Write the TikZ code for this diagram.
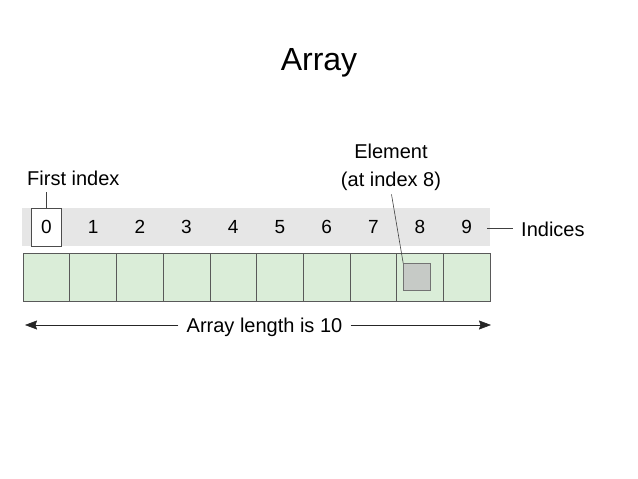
\documentclass[tikz,border=0pt]{standalone}
\usepackage{fontspec}
\setmainfont{Liberation Sans}
\usetikzlibrary{positioning,arrows.meta}
\definecolor{cellgreen}{RGB}{218,237,216}
\definecolor{bandgray}{RGB}{230,230,230}
\definecolor{elemgray}{RGB}{198,202,198}
\begin{document}
\begin{tikzpicture}[x=1pt, y=-1pt,
    cell/.style={draw=black!65, semithick, fill=cellgreen, minimum width=46.7pt, minimum height=48pt, inner sep=0pt, outer sep=0pt},
    idx/.style={font=\fontsize{19}{19}\selectfont, inner sep=0pt},
    lbl/.style={font=\fontsize{20}{28}\selectfont, inner sep=1pt, align=center},
    pointer/.style={black!75, semithick},
    lenarrow/.style={black!85, semithick, -{Stealth[length=12pt, width=9pt, inset=1.5pt]}}]
    \useasboundingbox (0,0) rectangle (638,479);
    % Titel
    \node[font=\fontsize{32}{32}\selectfont, anchor=base] (title) at (319,70) {Array};

    % Indexband
    \fill[bandgray] (22,208) rectangle (490,246);
    \node[draw=black!70, semithick, fill=white, minimum width=30pt, minimum height=38pt, inner sep=0pt] (first) at (46.4,227) {};
    \foreach \i in {0,...,9} {
        \node[cell] (c\i) at ({46.4+46.7*\i},277) {};
        \node[idx] (i\i) at ({46.4+46.7*\i},227) {\i};
    }
    \node[draw=black!55, semithick, fill=elemgray, minimum size=27pt, inner sep=0pt] (elem) at (417,277) {};

    % Labels
    \node[lbl, anchor=base west] (firstlbl) at (26,185) {First index};
    \draw[pointer] (first.north) -- (first.north |- firstlbl.south) [shorten >=6pt];
    \node[lbl] (elemlbl) at (391,167) {Element\\(at index 8)};
    \draw[pointer, shorten <=3pt] (elemlbl.south) -- (elem.north west);
    \coordinate (bandend) at (487,228);
    \node[lbl, anchor=base west] (indlbl) at (520,236) {Indices};
    \draw[pointer, shorten >=7pt] (bandend) -- (bandend -| indlbl.west);

    % Lengte
    \node[lbl, anchor=base] (lenlbl) at (264.5,332) {Array length is 10};
    \coordinate (lenleft) at (25,325);
    \coordinate (lenright) at (491,325);
    \draw[lenarrow, shorten <=7pt] (lenlbl.west |- lenleft) -- (lenleft);
    \draw[lenarrow, shorten <=7pt] (lenlbl.east |- lenright) -- (lenright);
\end{tikzpicture}
\end{document}
